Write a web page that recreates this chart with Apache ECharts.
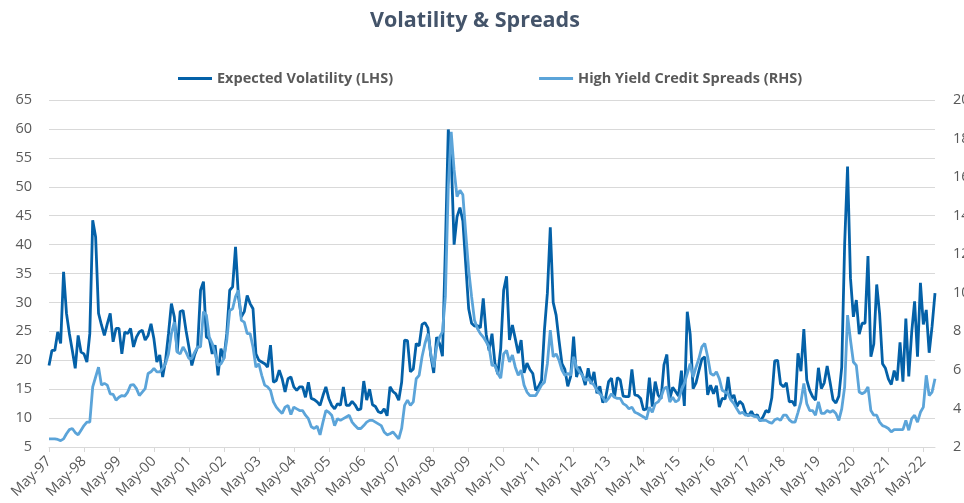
<!DOCTYPE html>
<html>
<head>
<meta charset="utf-8">
<title>Volatility & Spreads</title>
<script src="https://cdn.jsdelivr.net/npm/echarts@6/dist/echarts.min.js"></script>
<style>
  html, body { margin: 0; padding: 0; background: #fff; }
  .line .echart { width: 964px; height: 503px; }
</style>
</head>
<body>
<div class="line"><div class="echart"></div></div>
<script>
// 月度数据 May-97 ~ Sep-22
var monthNames = ['Jan', 'Feb', 'Mar', 'Apr', 'May', 'Jun', 'Jul', 'Aug', 'Sep', 'Oct', 'Nov', 'Dec']
var startYear = 1997
var startMonth = 4 // May
var pointCount = 305

// Expected Volatility (LHS)
var volData = [
  19.1, 21.7, 21.7, 24.9, 22.9, 35.3, 28.1, 24.6, 21.7, 18.6, 24.3, 21.4,
  21.1, 19.7, 24.6, 44.2, 41.3, 28.1, 26.1, 24.3, 26.3, 28.1, 23.2, 25.5,
  25.5, 21.1, 24.9, 24.6, 25.5, 22.3, 24.0, 24.9, 25.2, 23.5, 24.3, 26.3,
  23.7, 19.7, 20.9, 17.1, 20.0, 24.6, 29.8, 27.5, 21.4, 28.4, 28.6, 25.2,
  22.3, 19.1, 21.0, 22.3, 32.1, 33.6, 24.0, 23.7, 21.1, 22.6, 17.4, 22.0,
  20.3, 24.6, 32.1, 32.7, 39.6, 31.0, 27.5, 28.4, 31.2, 29.8, 28.9, 21.1,
  20.0, 19.7, 19.4, 18.8, 22.6, 16.2, 16.5, 18.3, 16.8, 14.5, 16.8, 17.1,
  15.4, 14.8, 15.4, 15.4, 13.6, 16.2, 13.4, 13.2, 12.8, 12.2, 13.9, 15.4,
  13.4, 12.2, 11.6, 12.5, 12.2, 15.4, 12.2, 12.2, 12.9, 12.3, 11.4, 11.6,
  16.4, 13.1, 15.0, 12.3, 12.0, 11.1, 10.9, 11.6, 10.4, 15.4, 14.6, 14.2,
  13.1, 16.2, 23.5, 23.4, 18.0, 18.5, 22.9, 22.5, 26.2, 26.5, 25.6, 20.8,
  17.8, 24.0, 22.9, 20.7, 39.4, 59.9, 55.3, 40.0, 44.8, 46.4, 44.1, 36.5,
  28.9, 26.4, 25.9, 26.0, 25.6, 30.7, 24.5, 21.7, 24.6, 19.5, 17.6, 22.1,
  32.1, 34.5, 23.5, 26.1, 23.7, 21.2, 23.5, 17.8, 19.5, 18.4, 17.7, 14.8,
  15.5, 16.5, 25.3, 31.6, 43.0, 30.0, 27.8, 23.4, 19.4, 18.4, 15.5, 17.2,
  24.1, 17.1, 18.9, 17.5, 15.7, 18.6, 15.9, 18.0, 14.3, 15.5, 12.7, 13.5,
  16.3, 16.9, 13.5, 17.0, 16.6, 13.8, 13.7, 13.7, 18.4, 14.0, 13.9, 13.4,
  11.4, 11.6, 17.0, 12.0, 16.3, 14.0, 13.3, 19.2, 21.0, 13.3, 15.3, 14.6,
  13.8, 18.2, 12.1, 28.4, 24.5, 15.1, 16.1, 18.2, 20.2, 20.6, 14.0, 15.7,
  14.2, 15.6, 11.9, 13.4, 13.3, 17.1, 13.3, 14.0, 12.0, 12.9, 12.4, 10.8,
  10.4, 11.2, 10.3, 10.6, 9.5, 10.2, 11.3, 11.0, 13.5, 19.9, 20.0, 15.9,
  15.4, 16.1, 12.8, 12.9, 12.1, 21.2, 18.1, 25.4, 16.6, 14.8, 13.7, 13.1,
  18.7, 15.1, 16.1, 19.0, 16.2, 13.2, 12.6, 13.8, 18.8, 40.1, 53.5, 34.2,
  27.5, 30.4, 24.5, 26.4, 26.4, 38.0, 20.6, 22.8, 33.1, 28.0, 19.4, 18.6,
  16.8, 15.8, 18.2, 16.5, 23.1, 16.3, 27.2, 17.2, 24.8, 30.2, 20.6, 33.4,
  26.2, 28.7, 21.3, 25.9, 31.6
]

// High Yield Credit Spreads (RHS)
var spreadData = [
  2.42, 2.42, 2.42, 2.39, 2.33, 2.42, 2.69, 2.90, 2.96, 2.75, 2.63, 2.87,
  3.11, 3.29, 3.29, 5.12, 5.63, 6.14, 5.21, 5.30, 5.21, 4.76, 4.73, 4.43,
  4.58, 4.67, 4.64, 4.85, 5.21, 5.24, 5.03, 4.67, 4.85, 5.03, 5.81, 5.90,
  6.08, 5.90, 5.90, 6.08, 6.32, 6.83, 7.88, 8.48, 6.92, 6.83, 7.19, 6.92,
  6.59, 6.59, 6.92, 7.19, 7.19, 9.02, 8.84, 7.70, 7.37, 6.83, 6.23, 6.32,
  6.59, 7.55, 9.08, 9.17, 9.80, 10.13, 8.57, 8.48, 7.88, 7.88, 7.19, 6.14,
  6.32, 5.72, 5.21, 5.12, 4.94, 4.34, 4.07, 3.89, 3.74, 4.07, 4.16, 3.68,
  4.07, 3.98, 3.89, 3.89, 3.65, 3.47, 3.05, 2.96, 3.08, 2.63, 3.29, 3.89,
  3.80, 3.65, 3.11, 3.47, 3.38, 3.47, 3.56, 3.65, 3.29, 3.11, 2.96, 2.96,
  3.11, 3.29, 3.38, 3.38, 3.29, 3.20, 3.11, 2.78, 2.63, 2.69, 2.78, 2.60,
  2.42, 2.96, 4.16, 4.43, 4.16, 4.34, 5.54, 5.72, 6.68, 7.37, 7.88, 6.83,
  6.14, 7.19, 7.70, 7.97, 9.80, 15.5, 18.35, 16.37, 14.99, 15.32, 15.08, 13.07,
  11.18, 9.80, 8.57, 8.15, 7.88, 7.70, 7.46, 7.19, 6.23, 6.23, 5.81, 5.57,
  6.83, 7.01, 6.41, 6.77, 6.14, 5.72, 5.99, 5.21, 4.85, 4.67, 4.67, 4.67,
  4.94, 5.21, 5.36, 6.32, 8.06, 6.68, 6.83, 6.50, 5.99, 5.72, 5.81, 5.72,
  6.68, 6.14, 5.90, 5.72, 5.45, 5.54, 5.36, 5.21, 4.94, 4.76, 4.58, 4.34,
  4.52, 4.76, 4.58, 4.52, 4.52, 4.25, 4.16, 3.98, 4.07, 3.80, 3.74, 3.65,
  3.56, 3.44, 4.07, 3.80, 4.25, 4.34, 4.58, 5.03, 5.12, 4.34, 4.58, 4.34,
  4.43, 4.94, 5.30, 5.81, 6.32, 5.63, 6.14, 6.59, 7.19, 7.37, 6.68, 5.81,
  5.72, 5.90, 5.54, 4.94, 4.85, 4.76, 4.43, 4.25, 3.98, 3.74, 3.80, 3.65,
  3.65, 3.65, 3.59, 3.56, 3.38, 3.38, 3.38, 3.29, 3.23, 3.41, 3.47, 3.38,
  3.65, 3.65, 3.41, 3.29, 3.29, 3.80, 4.34, 5.30, 4.25, 3.89, 3.89, 3.65,
  4.34, 3.74, 3.74, 3.89, 3.80, 3.89, 3.74, 3.38, 3.98, 5.12, 8.84, 7.55,
  6.41, 6.23, 4.85, 4.76, 4.85, 5.12, 3.89, 3.65, 3.65, 3.29, 3.11, 3.05,
  2.96, 2.78, 2.90, 2.90, 2.90, 2.90, 3.38, 2.87, 3.47, 3.65, 3.29, 3.80,
  4.07, 5.72, 4.67, 4.85, 5.54
]

// 月份标签 Mmm-YY
var months = []
for (var i = 0; i < pointCount; i++) {
  var m = startMonth + i
  var y = startYear + Math.floor(m / 12)
  months.push(monthNames[m % 12] + '-' + String(y).slice(2))
}

(function () {
  var myChart = echarts.init(document.querySelector('.line .echart'))
  var textFont = '"Open Sans", "Noto Sans", sans-serif'
  option = {
    animation: false,
    color: ['#0461a8', '#5ba4d9'],
    title: {
      text: 'Volatility & Spreads',
      left: 370,
      top: 10,
      padding: 0,
      textStyle: {
        color: '#44546a',
        fontSize: 21.5,
        fontWeight: 'bold',
        fontFamily: textFont
      }
    },
    legend: {
      left: 178,
      top: 71,
      padding: 0,
      itemGap: 146,
      itemWidth: 34,
      itemHeight: 3,
      icon: 'rect',
      textStyle: {
        color: '#595959',
        fontSize: 14.5,
        fontWeight: 'bold',
        fontFamily: textFont
      },
      data: ['Expected Volatility (LHS)', 'High Yield Credit Spreads (RHS)']
    },
    // 右侧刻度文字允许被画布裁切，网格不收缩
    grid: {
      left: 49,
      right: 29,
      top: 100,
      bottom: 56,
      outerBoundsMode: 'none'
    },
    xAxis: {
      type: 'category',
      boundaryGap: false,
      data: months,
      axisLine: {
        lineStyle: { color: '#d9d9d9', width: 1 }
      },
      axisTick: {
        interval: 11,
        length: 5,
        lineStyle: { color: '#d9d9d9' }
      },
      axisLabel: {
        interval: 11,
        rotate: 45,
        margin: 12,
        color: '#595959',
        fontSize: 14.5,
        fontFamily: textFont
      }
    },
    yAxis: [{
      type: 'value',
      min: 5,
      max: 65,
      interval: 5,
      axisLine: { show: false },
      axisTick: { show: false },
      axisLabel: {
        margin: 17,
        color: '#595959',
        fontSize: 14.5,
        fontFamily: textFont
      },
      splitLine: {
        lineStyle: { color: '#d9d9d9', width: 1 }
      }
    }, {
      type: 'value',
      min: 2,
      max: 20,
      interval: 2,
      axisLine: { show: false },
      axisTick: { show: false },
      axisLabel: {
        margin: 18,
        color: '#595959',
        fontSize: 14.5,
        fontFamily: textFont
      },
      splitLine: { show: false }
    }],
    series: [{
      name: 'Expected Volatility (LHS)',
      type: 'line',
      yAxisIndex: 0,
      data: volData,
      showSymbol: false,
      lineStyle: { color: '#0461a8', width: 2.8 }
    }, {
      name: 'High Yield Credit Spreads (RHS)',
      type: 'line',
      yAxisIndex: 1,
      data: spreadData,
      showSymbol: false,
      lineStyle: { color: '#5ba4d9', width: 2.8 }
    }]
  };
  myChart.setOption(option)
  window.addEventListener('resize', function () {
    myChart.resize();
  });
})();
</script>
</body>
</html>
